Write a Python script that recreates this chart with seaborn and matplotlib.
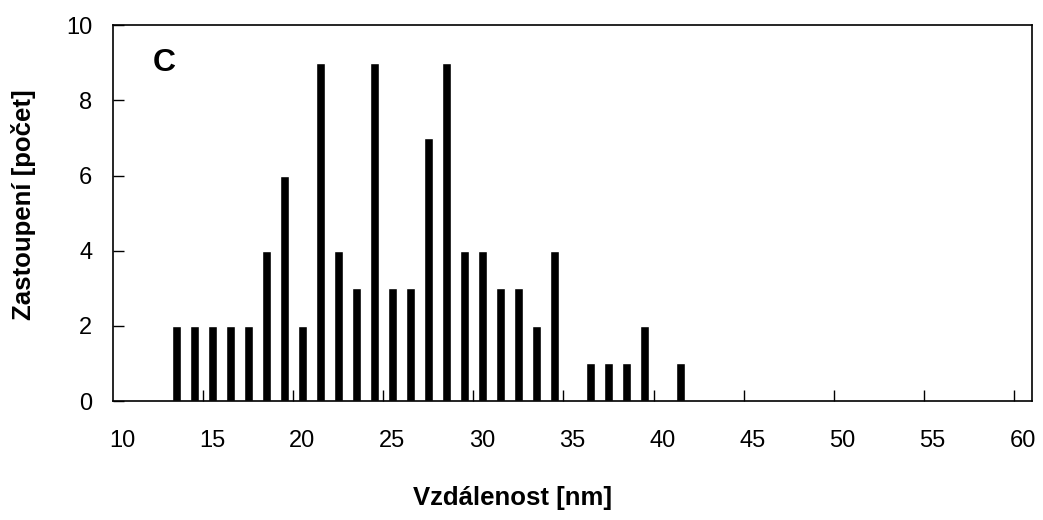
import numpy as np
import pandas as pd
import seaborn as sns
import matplotlib.pyplot as plt
from matplotlib.ticker import FixedLocator

# distance categories (nm) and counts
dist = [13, 14, 15, 16, 17, 18, 19, 20, 21, 22, 23, 24, 25, 26, 27, 28, 29, 30,
        31, 32, 33, 34, 36, 37, 38, 39, 41]
counts = [2, 2, 2, 2, 2, 4, 6, 2, 9, 4, 3, 9, 3, 3, 7, 9, 4, 4,
          3, 3, 2, 4, 1, 1, 1, 2, 1]
categories = list(range(10, 61))
tick_labels = [str(c) for c in range(10, 61, 5)]
yticks = [0, 2, 4, 6, 8, 10]

sns.set_theme(style="white")
plt.rcParams['font.family'] = ['Liberation Sans', 'DejaVu Sans']
plt.rcParams['text.color'] = 'black'

df = pd.DataFrame({"dist": dist, "count": counts})

fig = plt.figure(figsize=(10.43, 5.2), dpi=100)
ax = fig.add_axes([0.1086, 0.2288, 0.8806, 0.7225])

sns.barplot(data=df, x="dist", y="count", order=categories, color="black",
            width=0.5, saturation=1, ax=ax)

ax.set_xlim(-0.5, len(categories) - 0.5)
ax.set_ylim(0, 10)

# labels centred on every fifth category, tick marks on category boundaries
ax.xaxis.set_major_locator(FixedLocator([categories.index(int(t)) for t in tick_labels]))
ax.set_xticklabels(tick_labels)
ax.xaxis.set_minor_locator(FixedLocator([categories.index(int(t)) - 0.5 for t in tick_labels[1:]]))
ax.tick_params(axis="x", which="major", length=0, pad=21, labelsize=17,
               colors="black", labelcolor="black")
ax.tick_params(axis="x", which="minor", length=8, direction="in", width=1,
               color="black", bottom=True)
ax.set_yticks(yticks)
ax.tick_params(axis="y", length=8, direction="in", width=1, pad=15, labelsize=17,
               left=True, colors="black", labelcolor="black")

for s in ax.spines.values():
    s.set_color("black")
    s.set_linewidth(1.2)

ax.set_xlabel("")
ax.set_ylabel("")
fig.text(0.491, 0.043, "Vzdálenost [nm]", ha="center", va="center",
         fontsize=18.5, fontweight="bold", color="black")
fig.text(0.023, 0.607, "Zastoupení [počet]", ha="center", va="center",
         rotation=90, fontsize=18.5, fontweight="bold", color="black")
ax.text(0.055, 0.9, "C", transform=ax.transAxes, ha="center", va="center",
        fontsize=23, fontweight="bold", color="black")

fig.savefig("out.png", dpi=100)
